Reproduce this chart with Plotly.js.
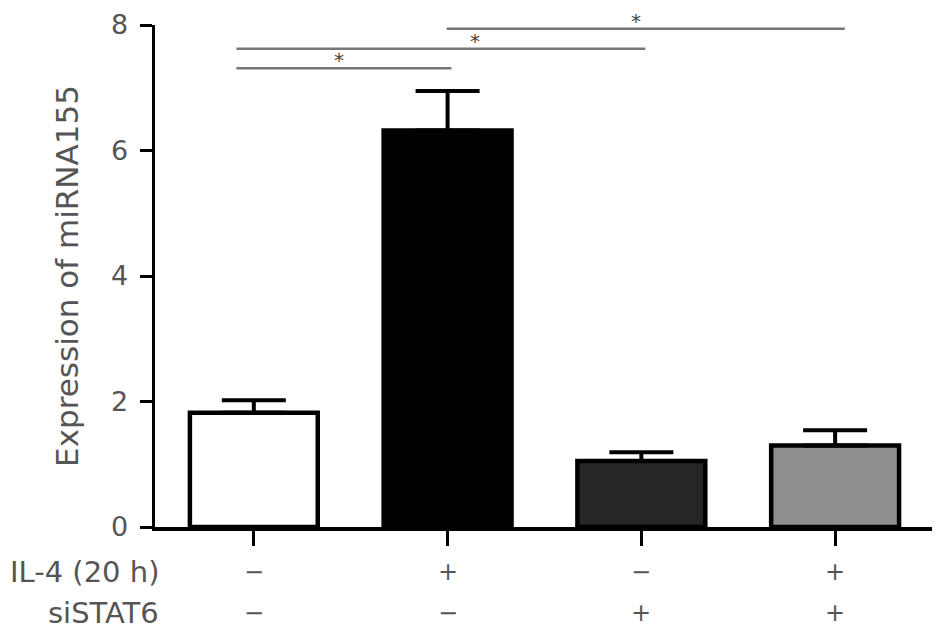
<!DOCTYPE html>
<html>
<head>
<meta charset="utf-8">
<script src="https://cdn.plot.ly/plotly-3.0.1.min.js"></script>
<style>html,body{margin:0;padding:0;background:#fff;}#chart{width:945px;height:636px;}</style>
</head>
<body>
<div id="chart"></div>
<script>
// ---- data ----
const groups = [0, 1, 2, 3];
const expression = [1.82, 6.32, 1.05, 1.30];
const errorUp = [0.20, 0.63, 0.14, 0.24];
const barColors = ['#ffffff', '#000000', '#262626', '#8f8f8f'];
const il4Signs = ['\u2212', '+', '\u2212', '+'];
const siSTAT6Signs = ['\u2212', '\u2212', '+', '+'];
const rowLabels = ['IL-4 (20 h)', 'siSTAT6'];
const yTicks = [0, 2, 4, 6, 8];
// significance brackets (in group units / y units)
const sigX0 = [-0.09, -0.09, 0.995];
const sigX1 = [1.02, 2.02, 3.05];
const sigY = [7.31, 7.62, 7.94];
const sigStarX = [0.44, 1.14, 1.97];
const sigLabel = ['*', '*', '*'];

const txtColor = '#555555';
const font = 'DejaVu Sans, Arial, sans-serif';

const trace = {
  type: 'bar',
  x: groups,
  y: expression,
  width: 0.66,
  marker: {color: barColors, line: {color: '#000', width: 4.5}},
  error_y: {type: 'data', symmetric: false, array: errorUp, arrayminus: groups.map(() => 0),
            color: '#000', thickness: 4, width: 32},
  hoverinfo: 'none'
};

const plotTop = 25, plotBottom = 527, plotLeft = 155, plotRight = 932;
function pyToPaper(py) { return (plotBottom - py) / (plotBottom - plotTop); }
function pxToPaper(px) { return (px - plotLeft) / (plotRight - plotLeft); }

const anns = [];
groups.forEach((g, i) => {
  anns.push({x: g, y: pyToPaper(572), xref: 'x', yref: 'paper', text: il4Signs[i], showarrow: false,
    font: {family: font, size: 24, color: txtColor}, xanchor: 'center', yanchor: 'middle'});
  anns.push({x: g, y: pyToPaper(613), xref: 'x', yref: 'paper', text: siSTAT6Signs[i], showarrow: false,
    font: {family: font, size: 24, color: txtColor}, xanchor: 'center', yanchor: 'middle'});
});
rowLabels.forEach((lab, i) => {
  anns.push({x: pxToPaper(161), y: pyToPaper(i === 0 ? 572 : 613), xref: 'paper', yref: 'paper', text: lab,
    showarrow: false, font: {family: font, size: 29, color: txtColor}, xanchor: 'right', yanchor: 'middle'});
});
const shapes = [];
sigX0.forEach((x0, i) => {
  shapes.push({type: 'line', xref: 'x', yref: 'y', x0: x0, x1: sigX1[i],
    y0: sigY[i], y1: sigY[i], line: {color: '#777777', width: 2.5}});
  anns.push({x: sigStarX[i], y: sigY[i], xref: 'x', yref: 'y', text: sigLabel[i], showarrow: false,
    font: {family: font, size: 20, color: '#444'}, xanchor: 'center', yanchor: 'bottom', yshift: -6});
});

const layout = {
  width: 945, height: 636,
  margin: {l: 155, r: 13, t: 25, b: 109},
  paper_bgcolor: '#fff', plot_bgcolor: '#fff',
  showlegend: false,
  xaxis: {range: [-0.51, 3.5], tickvals: groups, ticktext: groups.map(() => ''), showgrid: false,
          zeroline: false, showline: true, linecolor: '#000', linewidth: 3.5,
          ticks: 'outside', ticklen: 15, tickwidth: 3, tickcolor: '#000', fixedrange: true},
  yaxis: {range: [0, 8], tickvals: yTicks, showgrid: false, zeroline: false, showline: true,
          linecolor: '#000', linewidth: 3.5, ticks: 'outside', ticklen: 12, tickwidth: 3, tickcolor: '#000',
          tickfont: {family: font, size: 27, color: txtColor}, ticklabelstandoff: 6,
          title: {text: 'Expression of miRNA155', font: {family: font, size: 31, color: txtColor}, standoff: 24},
          fixedrange: true},
  shapes: shapes,
  annotations: anns
};
Plotly.newPlot('chart', [trace], layout, {displayModeBar: false, staticPlot: true});
</script>
</body>
</html>
